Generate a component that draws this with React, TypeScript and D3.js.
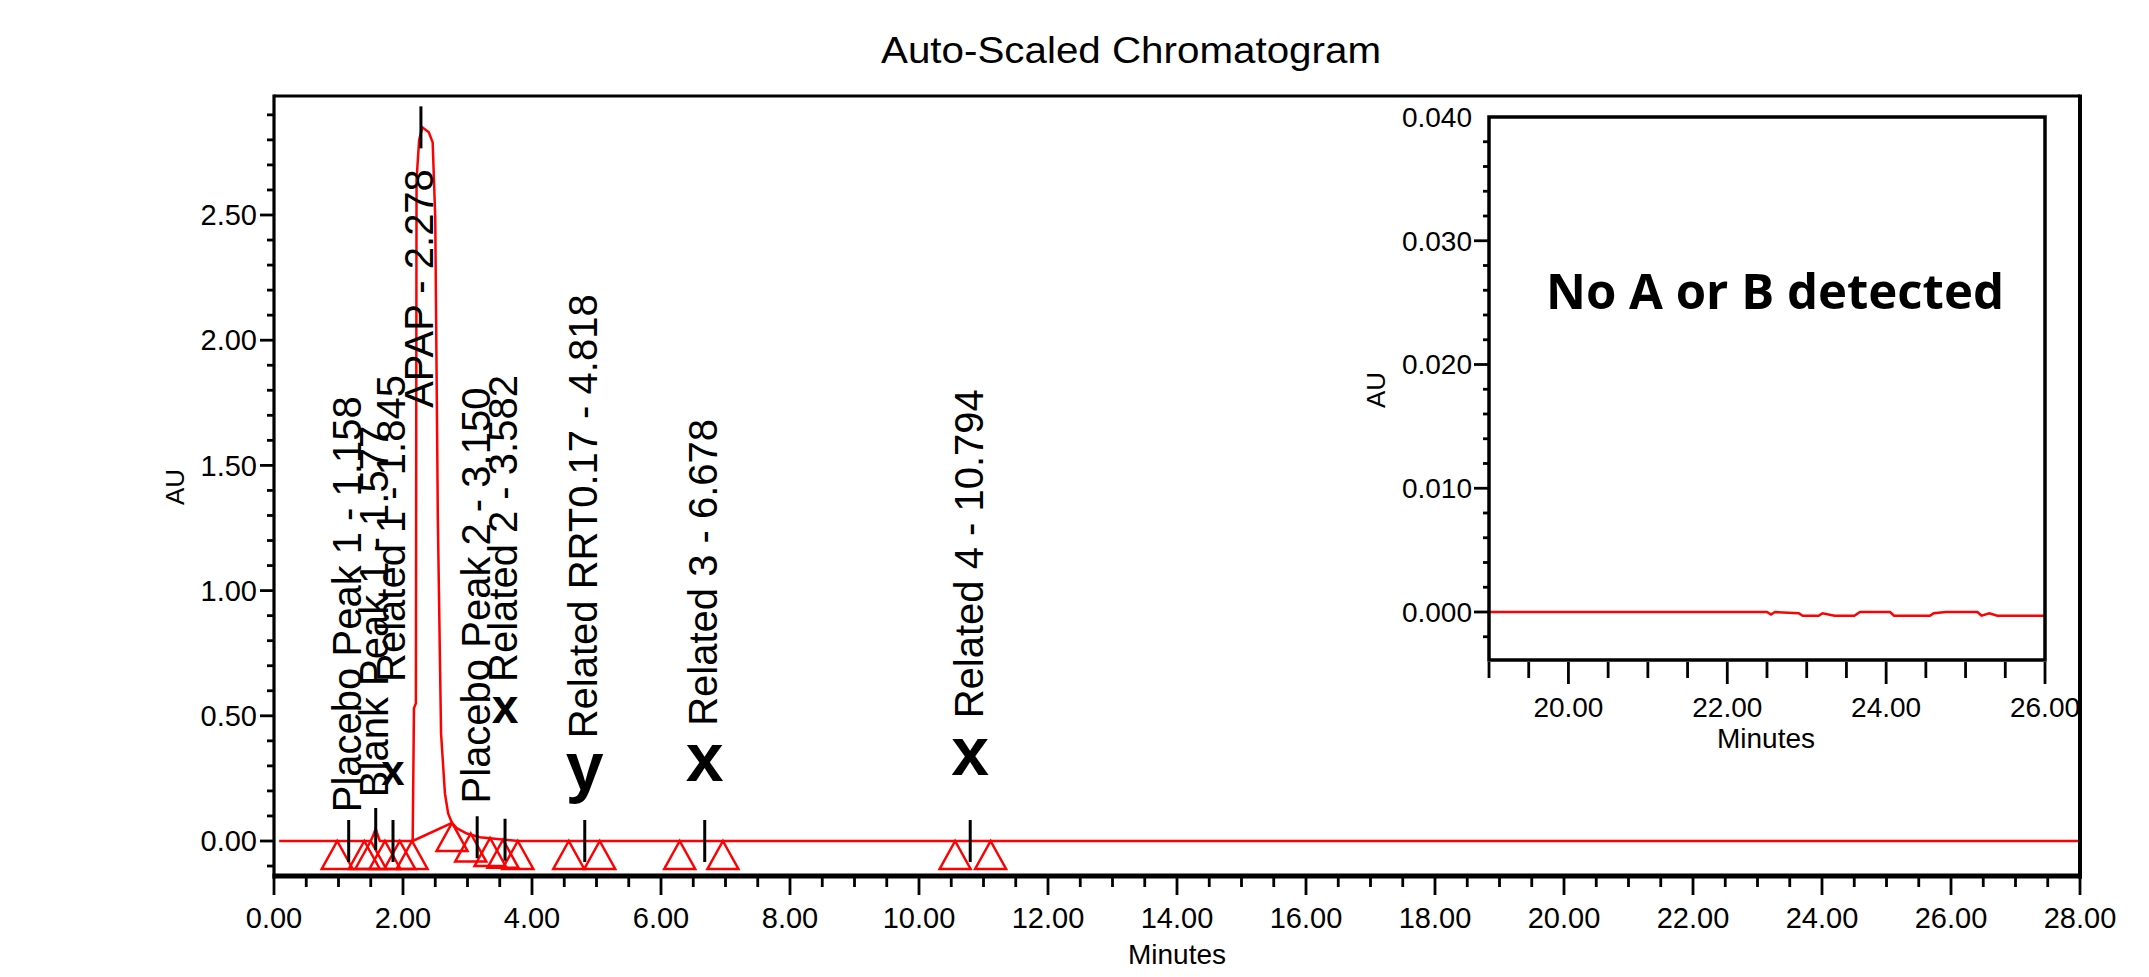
import React from 'react';
import * as d3 from 'd3';

// ---- data ----
const title = 'Auto-Scaled Chromatogram';

// main trace (minutes, AU)
const traceT = [0.08, 1.5, 1.55, 1.577, 1.6, 1.64, 2.15, 2.17, 2.2, 2.21, 2.25, 2.3, 2.4, 2.46, 2.5, 2.54, 2.59, 2.65, 2.7, 2.76, 2.84, 2.99, 3.19, 3.66, 3.8, 28.0];
const traceAU = [0, 0, 0.03, 0.05, 0.03, 0, 0, 0.53, 0.55, 2.64, 2.8, 2.85, 2.83, 2.79, 2.49, 1.29, 0.43, 0.19, 0.11, 0.072, 0.05, 0.03, 0.015, 0.003, 0, 0];

// APAP integration baseline (start -> end)
const apapBaseT = [2.15, 2.76];
const apapBaseAU = [0, 0.072];

// peaks
const peakNames = ['Placebo Peak 1', 'Blank Peak 1', 'Related 1', 'APAP', 'Placebo Peak 2', 'Related 2', 'Related RRT0.17', 'Related 3', 'Related 4'];
const peakRT = [1.158, 1.577, 1.845, 2.278, 3.15, 3.582, 4.818, 6.678, 10.794];
const peakRTText = ['1.158', '1.577', '1.845', '2.278', '3.150', '3.582', '4.818', '6.678', '10.794'];
const peakApexAU = [0, 0.048, 0, 2.85, 0.015, 0.005, 0, 0, 0];
const labelBaseAU = [0.115, 0.175, 0.635, 1.73, 0.15, 0.635, 0.41, 0.46, 0.49];

// hand-written annotations
const markerRT = [1.845, 3.582, 4.818, 6.678, 10.794];
const markerText = ['x', 'x', 'y', 'x', 'x'];
const markerBaseAU = [0.224, 0.47, 0.204, 0.24, 0.264];

// integration start/end triangles
const triT = [0.98, 1.4, 1.5, 1.72, 1.95, 2.14, 2.76, 3.05, 3.35, 3.55, 3.78, 4.57, 5.05, 6.29, 6.96, 10.56, 11.11];
const triAU = [0, 0, 0, 0, 0, 0, 0.072, 0.03, 0.012, 0.005, 0, 0, 0, 0, 0, 0, 0];

// axes
const yTickLabels = ['0.00', '0.50', '1.00', '1.50', '2.00', '2.50'];
const yTickValues = [0, 0.5, 1.0, 1.5, 2.0, 2.5];
const xTickLabels = ['0.00', '2.00', '4.00', '6.00', '8.00', '10.00', '12.00', '14.00', '16.00', '18.00', '20.00', '22.00', '24.00', '26.00', '28.00'];

// inset (zoom 19-26 min)
const insetT = [19.0, 22.5, 22.55, 22.6, 22.9, 22.95, 23.15, 23.2, 23.35, 23.6, 23.67, 24.05, 24.1, 24.55, 24.6, 24.75, 25.15, 25.2, 25.3, 25.4, 26.0];
const insetAU = [0, 0, -0.0002, 0, -0.0001, -0.0003, -0.0003, -0.0001, -0.0003, -0.0003, 0, 0, -0.0003, -0.0003, -0.0001, 0, 0, -0.0003, -0.0001, -0.0003, -0.0003];
const insetYTickLabels = ['0.000', '0.010', '0.020', '0.030', '0.040'];
const insetYTickValues = [0, 0.01, 0.02, 0.03, 0.04];
const insetXTickLabels = ['20.00', '22.00', '24.00', '26.00'];
const insetXTickValues = [20, 22, 24, 26];
const insetNote = 'No A or B detected';

// ---- layout ----
const FONT = 'Liberation Sans, Arial, sans-serif';
const markerSize = [42, 48, 68, 68, 68];
const RED = '#ff0000';

export default function App() {
  const W = 2149, H = 977;
  const L = 274, R = 2080, T = 96, B = 876;
  const xM = d3.scaleLinear().domain([0, 28]).range([L, R]);
  const yM = d3.scaleLinear().domain([0, 2.5]).range([841, 215]);

  const trace = d3.line<number>().x(i => xM(traceT[i])).y(i => yM(traceAU[i]))(d3.range(traceT.length)) || '';
  const apapBase = d3.line<number>().x(i => xM(apapBaseT[i])).y(i => yM(apapBaseAU[i]))(d3.range(apapBaseT.length)) || '';

  const yTicks = d3.range(-1, 30).map(i => ({ v: i / 10, major: i % 5 === 0 }));
  const xTicks = d3.range(0, 57).map(i => ({ v: i / 2, major: i % 4 === 0 }));

  // inset
  const iL = 1489, iR = 2045, iT = 117, iB = 660;
  const xI = d3.scaleLinear().domain([19, 26]).range([iL, iR]);
  const yI = d3.scaleLinear().domain([0, 0.04]).range([612, iT]);
  const insetLine = d3.line<number>().x(i => xI(insetT[i])).y(i => yI(insetAU[i]))(d3.range(insetT.length)) || '';
  const iyTicks = d3.range(-1, 20).map(i => ({ v: i * 0.002, major: i % 5 === 0 }));
  const ixTicks = d3.range(0, 15).map(i => ({ v: 19 + i * 0.5, major: (19 + i * 0.5) % 2 === 0 }));

  const triW = 31, triH = 28;

  return (
    <svg width={W} height={H} style={{ position: 'absolute', left: 0, top: 0, background: '#fff' }} fontFamily={FONT}>
      <rect x={0} y={0} width={W} height={H} fill="#fff" />
      {/* title */}
      <text x={1131} y={63} fontSize={36} textAnchor="middle" textLength={500} lengthAdjust="spacingAndGlyphs">{title}</text>

      {/* main y ticks */}
      {yTicks.map((t, i) => (
        <line key={'yt' + i} x1={L - (t.major ? 14 : 7)} x2={L} y1={yM(t.v)} y2={yM(t.v)} stroke="#000" strokeWidth={2.8} />
      ))}
      {yTickValues.map((v, i) => (
        <text key={'yl' + i} x={257} y={yM(v)} dy="0.35em" fontSize={29} textAnchor="end">{yTickLabels[i]}</text>
      ))}
      <text transform={`translate(175,487) rotate(-90)`} fontSize={26} textAnchor="middle" dy="0.35em">AU</text>

      {/* main x ticks */}
      {xTicks.map((t, i) => (
        <line key={'xt' + i} x1={xM(t.v)} x2={xM(t.v)} y1={B + 2} y2={B + (t.major ? 19 : 11)} stroke="#000" strokeWidth={2.8} />
      ))}
      {xTickLabels.map((s, i) => (
        <text key={'xl' + i} x={xM(i * 2)} y={928} fontSize={29} textAnchor="middle">{s}</text>
      ))}
      <text x={1177} y={964} fontSize={28} textAnchor="middle">Minutes</text>

      {/* trace */}
      <path d={trace} fill="none" stroke={RED} strokeWidth={2.5} strokeLinejoin="miter" />
      <path d={apapBase} fill="none" stroke={RED} strokeWidth={2.5} />

      {/* triangles */}
      {triT.map((t, i) => {
        const cx = xM(t), cy = yM(triAU[i]);
        return (
          <path key={'tri' + i} d={`M${cx},${cy} L${cx + triW / 2},${cy + triH} L${cx - triW / 2},${cy + triH} Z`} fill="none" stroke={RED} strokeWidth={2.5} />
        );
      })}

      {/* peak ticks */}
      {peakRT.map((t, i) => (
        <line key={'pk' + i} x1={xM(t)} x2={xM(t)} y1={yM(peakApexAU[i]) - 21} y2={yM(peakApexAU[i]) + 21} stroke="#000" strokeWidth={3} />
      ))}

      {/* peak labels */}
      {peakRT.map((t, i) => (
        <text key={'pl' + i} transform={`translate(${xM(t) - 2},${yM(labelBaseAU[i])}) rotate(-90)`} dy="0.36em" fontSize={40} textAnchor="start">
          {`${peakNames[i]} - ${peakRTText[i]}`}
        </text>
      ))}

      {/* annotations */}
      {markerRT.map((t, i) => (
        <text key={'mk' + i} x={xM(t)} y={yM(markerBaseAU[i])} fontSize={markerSize[i]} fontWeight="bold" textAnchor="middle">{markerText[i]}</text>
      ))}

      {/* main frame */}
      <line x1={L} x2={R} y1={T} y2={T} stroke="#000" strokeWidth={3} />
      <line x1={L} x2={L} y1={T - 1.5} y2={B + 2.5} stroke="#000" strokeWidth={3.2} />
      <line x1={R} x2={R} y1={T - 1.5} y2={B + 2.5} stroke="#000" strokeWidth={4} />
      <line x1={L - 1.5} x2={R + 2} y1={B} y2={B} stroke="#000" strokeWidth={5} />

      {/* inset */}
      <rect x={iL} y={iT} width={iR - iL} height={iB - iT} fill="#fff" stroke="none" />
      <path d={insetLine} fill="none" stroke={RED} strokeWidth={2.5} />
      <rect x={iL} y={iT} width={iR - iL} height={iB - iT} fill="none" stroke="#000" strokeWidth={3.5} />
      {iyTicks.map((t, i) => (
        <line key={'iyt' + i} x1={iL - (t.major ? 15 : 6)} x2={iL} y1={yI(t.v)} y2={yI(t.v)} stroke="#000" strokeWidth={2.8} />
      ))}
      {insetYTickValues.map((v, i) => (
        <text key={'iyl' + i} x={1472} y={yI(v)} dy="0.35em" fontSize={28} textAnchor="end">{insetYTickLabels[i]}</text>
      ))}
      <text transform={`translate(1376,390) rotate(-90)`} fontSize={26} textAnchor="middle" dy="0.35em">AU</text>
      {ixTicks.map((t, i) => (
        <line key={'ixt' + i} x1={xI(t.v)} x2={xI(t.v)} y1={iB + 2} y2={iB + (t.major ? 24 : 18)} stroke="#000" strokeWidth={2.8} />
      ))}
      {insetXTickValues.map((v, i) => (
        <text key={'ixl' + i} x={xI(v)} y={717} fontSize={28} textAnchor="middle">{insetXTickLabels[i]}</text>
      ))}
      <text x={1766} y={748} fontSize={28} textAnchor="middle">Minutes</text>
      <text x={1775} y={309} fontSize={48} fontWeight="bold" fontFamily="Open Sans, Liberation Sans, sans-serif" textAnchor="middle" textLength={458} lengthAdjust="spacingAndGlyphs">{insetNote}</text>
    </svg>
  );
}
